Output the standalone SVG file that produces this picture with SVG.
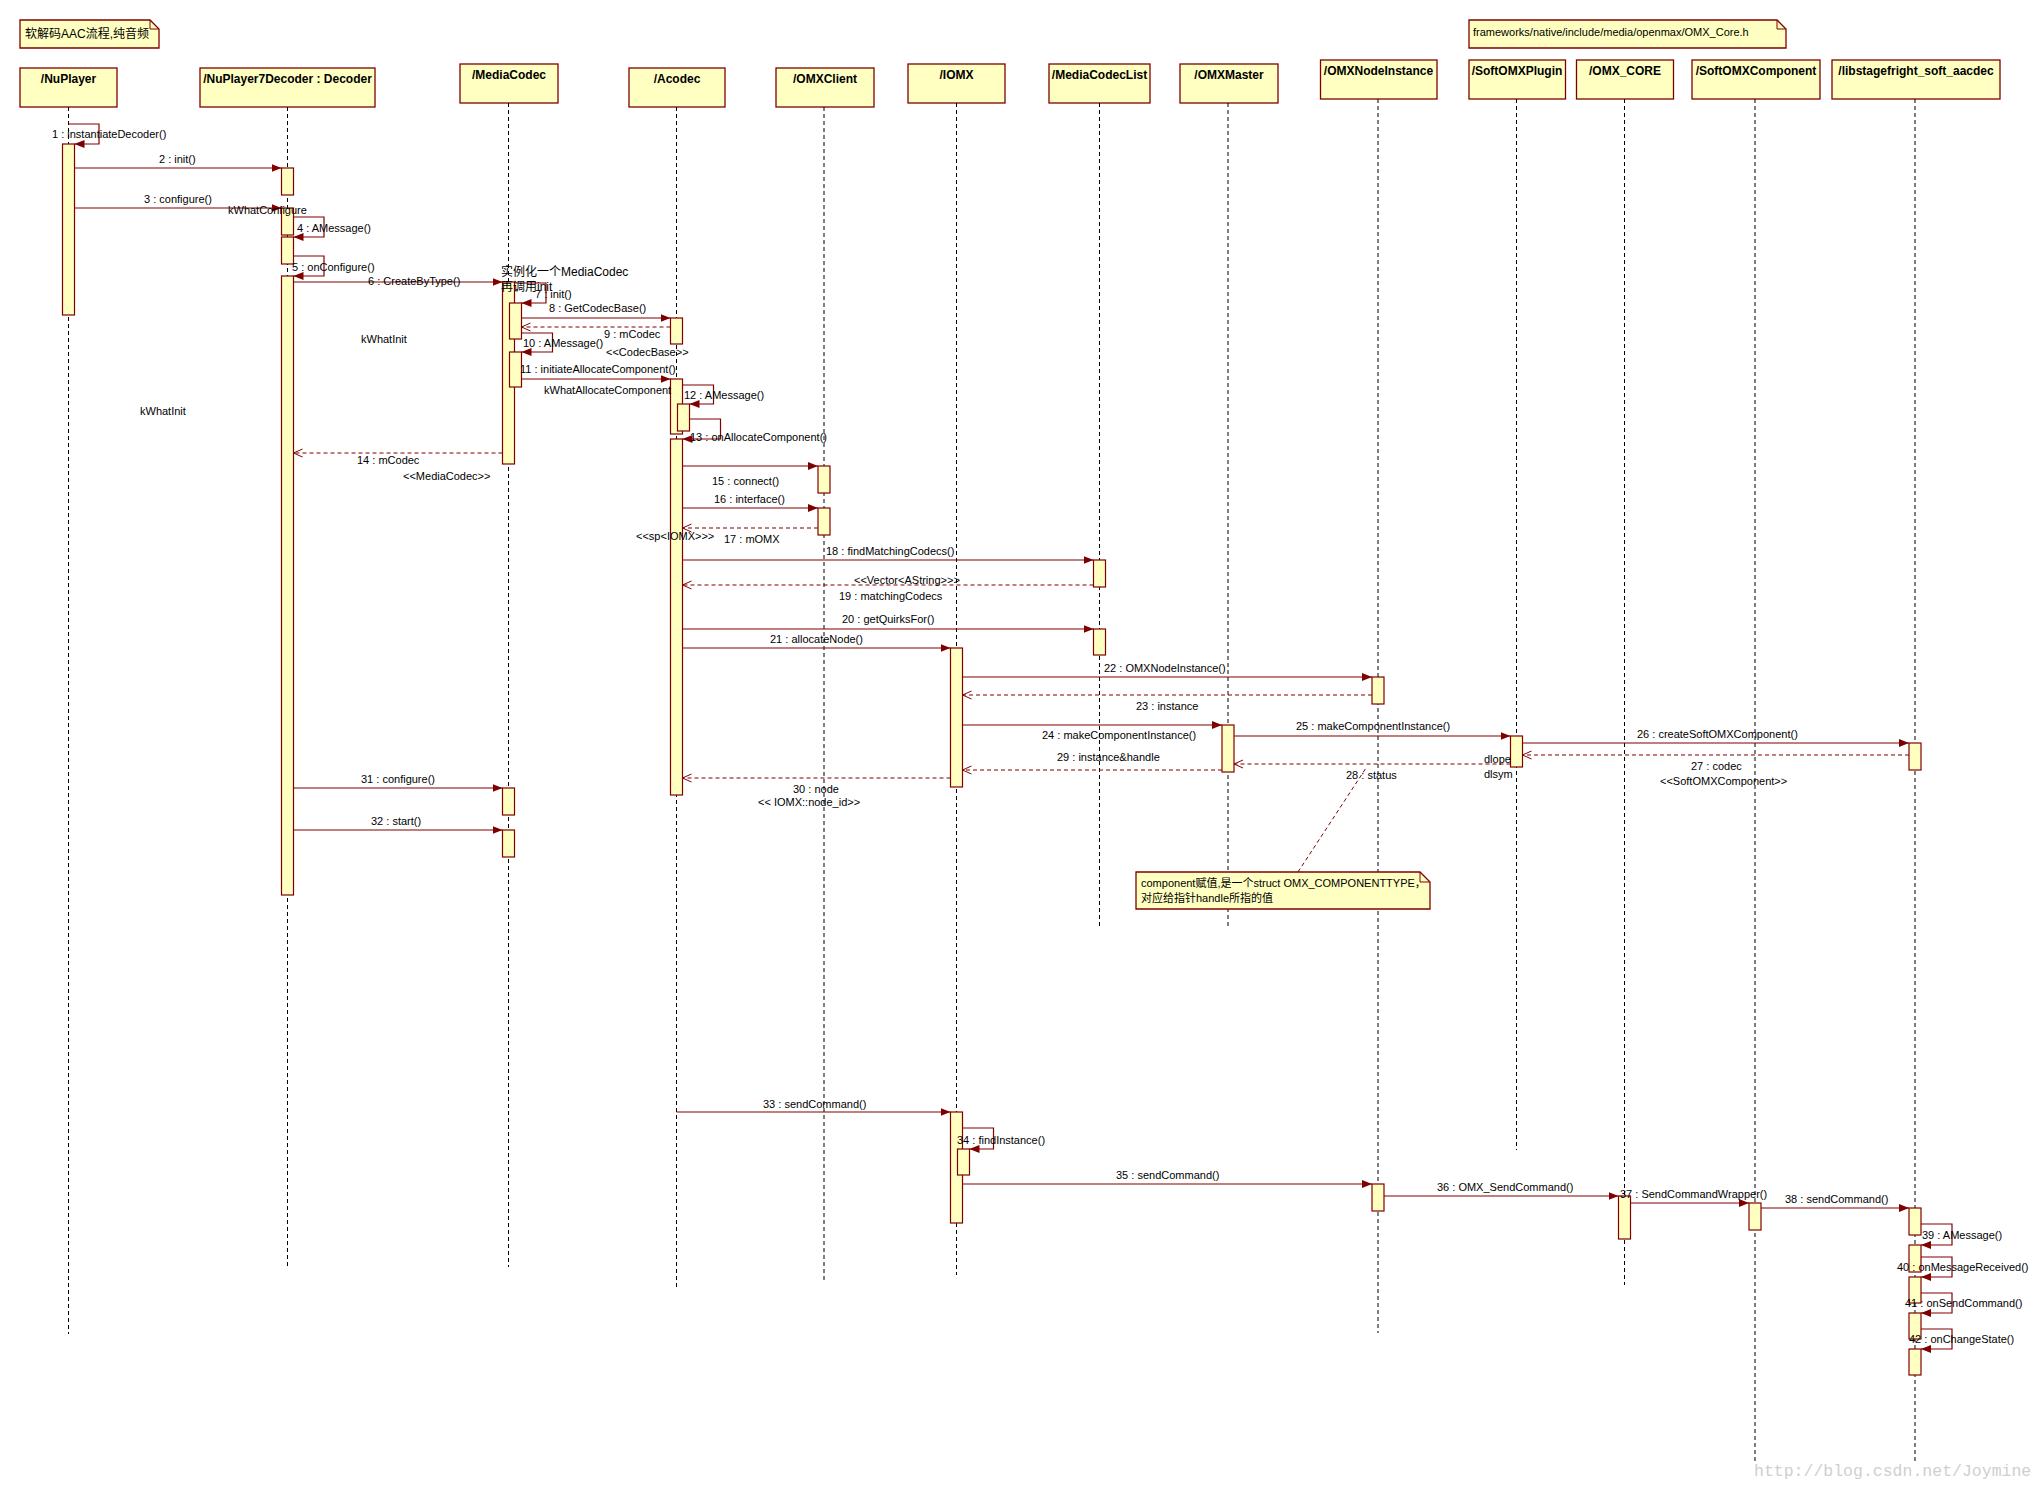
<svg xmlns="http://www.w3.org/2000/svg" width="2044" height="1488" viewBox="0 0 2044 1488">
<style>
.bg{fill:#ffffff}
.box{fill:#ffffc1;stroke:#800000;stroke-width:1.3}
.act{fill:#ffffc1;stroke:#800000;stroke-width:1.2}
.life{stroke:#000;stroke-width:1;stroke-dasharray:4,3;fill:none}
.hd{font-family:"Liberation Sans","Noto Sans CJK SC",sans-serif;font-size:12px;font-weight:bold;fill:#000;text-anchor:middle}
.t{font-family:"Liberation Sans","Noto Sans CJK SC",sans-serif;font-size:11px;fill:#000}
.cn{font-family:"Liberation Sans","Noto Sans CJK SC",sans-serif;font-size:12px;fill:#000}
.msg{stroke:#800000;stroke-width:1.2;fill:none;marker-end:url(#fa)}
.ret{stroke:#800000;stroke-width:1.2;fill:none;stroke-dasharray:4,3;marker-end:url(#oa)}
.anc{stroke:#800000;stroke-width:1;fill:none;stroke-dasharray:4,3}
.wm{font-family:"Liberation Mono",monospace;font-size:16.5px;fill:#cfcfcf}
</style>
<defs>
<marker id="fa" markerWidth="10" markerHeight="8" refX="10" refY="4" orient="auto" markerUnits="userSpaceOnUse"><path d="M0,0 L10,4 L0,8 z" fill="#800000"/></marker>
<marker id="oa" markerWidth="11" markerHeight="10" refX="10" refY="5" orient="auto" markerUnits="userSpaceOnUse"><path d="M1,1 L10,5 L1,9" fill="none" stroke="#800000" stroke-width="1"/></marker>
</defs>
<rect class="bg" x="0" y="0" width="2044" height="1488"/>

<g id="note-title">
<path class="box" d="M20,20 H150 L159,29 V48 H20 Z"/>
<path d="M150,20 V29 H159" fill="none" stroke="#800000" stroke-width="1"/>
<text class="cn" x="25" y="38">软解码AAC流程,纯音频</text>
</g>
<g id="note-omxcore">
<path class="box" d="M1469,20 H1777 L1786,29 V48 H1469 Z"/>
<path d="M1777,20 V29 H1786" fill="none" stroke="#800000" stroke-width="1"/>
<text class="t" x="1473" y="36">frameworks/native/include/media/openmax/OMX_Core.h</text>
</g>

<g id="NuPlayer">
<rect class="box" x="20" y="68" width="97" height="39"/>
<text class="hd" x="68.5" y="83">/NuPlayer</text>
<line class="life" x1="68.5" y1="107" x2="68.5" y2="1334"/>
<rect class="act" x="62.5" y="144" width="12" height="171"/>
</g>
<g id="Decoder">
<rect class="box" x="200" y="68" width="175" height="39"/>
<text class="hd" x="287.5" y="83">/NuPlayer7Decoder : Decoder</text>
<line class="life" x1="287.5" y1="107" x2="287.5" y2="1267"/>
<rect class="act" x="281.5" y="168" width="12" height="27"/>
<rect class="act" x="281.5" y="208" width="12" height="27"/>
<rect class="act" x="281.5" y="237" width="12" height="27"/>
<rect class="act" x="281.5" y="276" width="12" height="619"/>
</g>
<g id="MediaCodec">
<rect class="box" x="460" y="64" width="98" height="39"/>
<text class="hd" x="509" y="79">/MediaCodec</text>
<line class="life" x1="508.5" y1="103" x2="508.5" y2="1267"/>
<rect class="act" x="502.5" y="282" width="12" height="182"/>
<rect class="act" x="509.5" y="303" width="12" height="36"/>
<rect class="act" x="509.5" y="352" width="12" height="35"/>
<rect class="act" x="502.5" y="788" width="12" height="27"/>
<rect class="act" x="502.5" y="830" width="12" height="27"/>
</g>
<g id="Acodec">
<rect class="box" x="629" y="68" width="96" height="39"/>
<text class="hd" x="677" y="83">/Acodec</text>
<line class="life" x1="676.5" y1="107" x2="676.5" y2="1290"/>
<rect class="act" x="670.5" y="318" width="12" height="26"/>
<rect class="act" x="670.5" y="379" width="12" height="55"/>
<rect class="act" x="677.5" y="404" width="12" height="27"/>
<rect class="act" x="670.5" y="439" width="12" height="356"/>
</g>
<g id="OMXClient">
<rect class="box" x="776" y="68" width="98" height="39"/>
<text class="hd" x="825" y="83">/OMXClient</text>
<line class="life" x1="824" y1="107" x2="824" y2="1280"/>
<rect class="act" x="818" y="466" width="12" height="27"/>
<rect class="act" x="818" y="508" width="12" height="27"/>
</g>
<g id="IOMX">
<rect class="box" x="908" y="64" width="97" height="39"/>
<text class="hd" x="956.5" y="79">/IOMX</text>
<line class="life" x1="956.5" y1="103" x2="956.5" y2="1275"/>
<rect class="act" x="950.5" y="648" width="12" height="139"/>
<rect class="act" x="950.5" y="1112" width="12" height="111"/>
<rect class="act" x="957.5" y="1149" width="12" height="26"/>
</g>
<g id="MediaCodecList">
<rect class="box" x="1049" y="64" width="101" height="39"/>
<text class="hd" x="1099.5" y="79">/MediaCodecList</text>
<line class="life" x1="1099.5" y1="103" x2="1099.5" y2="927"/>
<rect class="act" x="1093.5" y="560" width="12" height="27"/>
<rect class="act" x="1093.5" y="629" width="12" height="26"/>
</g>
<g id="OMXMaster">
<rect class="box" x="1180" y="64" width="98" height="39"/>
<text class="hd" x="1229" y="79">/OMXMaster</text>
<line class="life" x1="1228" y1="103" x2="1228" y2="928"/>
<rect class="act" x="1222" y="725" width="12" height="47"/>
</g>
<g id="OMXNodeInstance">
<rect class="box" x="1320.5" y="60" width="116.5" height="39"/>
<text class="hd" x="1378.5" y="75">/OMXNodeInstance</text>
<line class="life" x1="1378" y1="99" x2="1378" y2="1333"/>
<rect class="act" x="1372" y="677" width="12" height="27"/>
<rect class="act" x="1372" y="1184" width="12" height="27"/>
</g>
<g id="SoftOMXPlugin">
<rect class="box" x="1469" y="60" width="96.5" height="39"/>
<text class="hd" x="1517" y="75">/SoftOMXPlugin</text>
<line class="life" x1="1516.5" y1="99" x2="1516.5" y2="1150"/>
<rect class="act" x="1510.5" y="736" width="12" height="31"/>
</g>
<g id="OMX_CORE">
<rect class="box" x="1576.5" y="60" width="97" height="39"/>
<text class="hd" x="1625" y="75">/OMX_CORE</text>
<line class="life" x1="1624.5" y1="99" x2="1624.5" y2="1285"/>
<rect class="act" x="1618.5" y="1196" width="12" height="43"/>
</g>
<g id="SoftOMXComponent">
<rect class="box" x="1692" y="60" width="128" height="39"/>
<text class="hd" x="1756" y="75">/SoftOMXComponent</text>
<line class="life" x1="1755" y1="99" x2="1755" y2="1463"/>
<rect class="act" x="1749" y="1203" width="12" height="27"/>
</g>
<g id="libstagefright_soft_aacdec">
<rect class="box" x="1832" y="60" width="168" height="39"/>
<text class="hd" x="1916" y="75">/libstagefright_soft_aacdec</text>
<line class="life" x1="1915" y1="99" x2="1915" y2="1463"/>
<rect class="act" x="1909" y="743" width="12" height="27"/>
<rect class="act" x="1909" y="1208" width="12" height="27"/>
<rect class="act" x="1909" y="1245" width="12" height="27"/>
<rect class="act" x="1909" y="1277" width="12" height="26"/>
<rect class="act" x="1909" y="1313" width="12" height="26"/>
<rect class="act" x="1909" y="1349" width="12" height="26"/>
</g>

<g id="note-component">
<path class="anc" d="M1298,872 L1366,768"/>
<path class="box" d="M1136,872 H1420 L1430,882 V909 H1136 Z"/>
<path d="M1420,872 V882 H1430" fill="none" stroke="#800000" stroke-width="1"/>
<text class="t" x="1141" y="887">component赋值,是一个struct OMX_COMPONENTTYPE，</text>
<text class="t" x="1141" y="902">对应给指针handle所指的值</text>
</g>

<g id="connectors">
<path class="msg" d="M68.5,124 H99 V144 H74.5"/>
<path class="msg" d="M74.5,168 H281.5"/>
<path class="msg" d="M74.5,208 H281.5"/>
<path class="msg" d="M293.5,217 H324 V237 H293.5"/>
<path class="msg" d="M293.5,256 H324 V276 H293.5"/>
<path class="msg" d="M293.5,282 H502.5"/>
<path class="msg" d="M514.5,283 H546 V303 H521.5"/>
<path class="msg" d="M521.5,318 H670.5"/>
<path class="ret" d="M670.5,327 H521.5"/>
<path class="msg" d="M521.5,333 H552.5 V352 H521.5"/>
<path class="msg" d="M521.5,379 H670.5"/>
<path class="msg" d="M682.5,385 H713.5 V404 H689.5"/>
<path class="msg" d="M689.5,419 H720.5 V439 H682.5"/>
<path class="ret" d="M502.5,453 H293.5"/>
<path class="msg" d="M682.5,466 H818"/>
<path class="msg" d="M682.5,508 H818"/>
<path class="ret" d="M818,528 H682.5"/>
<path class="msg" d="M682.5,560 H1093.5"/>
<path class="ret" d="M1093.5,585 H682.5"/>
<path class="msg" d="M682.5,629 H1093.5"/>
<path class="msg" d="M682.5,648 H950.5"/>
<path class="msg" d="M962.5,677 H1372"/>
<path class="ret" d="M1372,695 H962.5"/>
<path class="msg" d="M962.5,725 H1222"/>
<path class="msg" d="M1234,736 H1510.5"/>
<path class="msg" d="M1522.5,743 H1909"/>
<path class="ret" d="M1909,755 H1522.5"/>
<path class="ret" d="M1510.5,764 H1234"/>
<path class="ret" d="M1222,770 H962.5"/>
<path class="ret" d="M950.5,778 H682.5"/>
<path class="msg" d="M293.5,788 H502.5"/>
<path class="msg" d="M293.5,830 H502.5"/>
<path class="msg" d="M676.5,1112 H950.5"/>
<path class="msg" d="M962.5,1128 H993.5 V1149 H969.5"/>
<path class="msg" d="M962.5,1184 H1372"/>
<path class="msg" d="M1384,1196 H1618.5"/>
<path class="msg" d="M1630.5,1203 H1749"/>
<path class="msg" d="M1761,1208 H1909"/>
<path class="msg" d="M1921,1224 H1952 V1245 H1921"/>
<path class="msg" d="M1921,1257 H1952 V1277 H1921"/>
<path class="msg" d="M1921,1293 H1952 V1313 H1921"/>
<path class="msg" d="M1921,1329 H1952 V1349 H1921"/>

<text class="t" x="52" y="138">1 : instantiateDecoder()</text>
<text class="t" x="159" y="163">2 : init()</text>
<text class="t" x="144" y="203">3 : configure()</text>
<text class="t" x="228" y="214">kWhatConfigure</text>
<text class="t" x="297" y="232">4 : AMessage()</text>
<text class="t" x="292" y="271">5 : onConfigure()</text>
<text class="t" x="368" y="285">6 : CreateByType()</text>
<text class="cn" x="501" y="276">实例化一个MediaCodec</text>
<text class="cn" x="501" y="291">再调用init</text>
<text class="t" x="535" y="298">7 : init()</text>
<text class="t" x="549" y="312">8 : GetCodecBase()</text>
<text class="t" x="604" y="338">9 : mCodec</text>
<text class="t" x="606" y="356">&lt;&lt;CodecBase&gt;&gt;</text>
<text class="t" x="523" y="347">10 : AMessage()</text>
<text class="t" x="520" y="373">11 : initiateAllocateComponent()</text>
<text class="t" x="544" y="394">kWhatAllocateComponent</text>
<text class="t" x="684" y="399">12 : AMessage()</text>
<text class="t" x="690" y="441">13 : onAllocateComponent()</text>
<text class="t" x="361" y="343">kWhatInit</text>
<text class="t" x="140" y="415">kWhatInit</text>
<text class="t" x="357" y="464">14 : mCodec</text>
<text class="t" x="403" y="480">&lt;&lt;MediaCodec&gt;&gt;</text>
<text class="t" x="712" y="485">15 : connect()</text>
<text class="t" x="714" y="503">16 : interface()</text>
<text class="t" x="724" y="543">17 : mOMX</text>
<text class="t" x="636" y="540">&lt;&lt;sp&lt;IOMX&gt;&gt;&gt;</text>
<text class="t" x="826" y="555">18 : findMatchingCodecs()</text>
<text class="t" x="854" y="584">&lt;&lt;Vector&lt;AString&gt;&gt;&gt;</text>
<text class="t" x="839" y="600">19 : matchingCodecs</text>
<text class="t" x="842" y="623">20 : getQuirksFor()</text>
<text class="t" x="770" y="643">21 : allocateNode()</text>
<text class="t" x="1104" y="672">22 : OMXNodeInstance()</text>
<text class="t" x="1136" y="710">23 : instance</text>
<text class="t" x="1042" y="739">24 : makeComponentInstance()</text>
<text class="t" x="1296" y="730">25 : makeComponentInstance()</text>
<text class="t" x="1637" y="738">26 : createSoftOMXComponent()</text>
<text class="t" x="1691" y="770">27 : codec</text>
<text class="t" x="1660" y="785">&lt;&lt;SoftOMXComponent&gt;&gt;</text>
<text class="t" x="1346" y="779">28 : status</text>
<text class="t" x="1484" y="763">dlope</text>
<text class="t" x="1484" y="778">dlsym</text>
<text class="t" x="1057" y="761">29 : instance&amp;handle</text>
<text class="t" x="793" y="793">30 : node</text>
<text class="t" x="758" y="806">&lt;&lt; IOMX::node_id&gt;&gt;</text>
<text class="t" x="361" y="783">31 : configure()</text>
<text class="t" x="371" y="825">32 : start()</text>
<text class="t" x="763" y="1108">33 : sendCommand()</text>
<text class="t" x="957" y="1144">34 : findInstance()</text>
<text class="t" x="1116" y="1179">35 : sendCommand()</text>
<text class="t" x="1437" y="1191">36 : OMX_SendCommand()</text>
<text class="t" x="1620" y="1198">37 : SendCommandWrapper()</text>
<text class="t" x="1785" y="1203">38 : sendCommand()</text>
<text class="t" x="1922" y="1239">39 : AMessage()</text>
<text class="t" x="1897" y="1271">40 : onMessageReceived()</text>
<text class="t" x="1905" y="1307">41 : onSendCommand()</text>
<text class="t" x="1909" y="1343">42 : onChangeState()</text>
</g>
<text class="wm" x="1754" y="1476">http://blog.csdn.net/Joymine</text>
</svg>
